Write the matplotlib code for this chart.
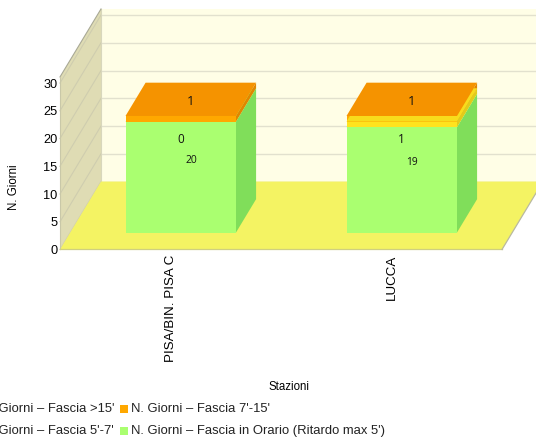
import matplotlib
matplotlib.use('Agg')
import matplotlib.pyplot as plt
from matplotlib.patches import Polygon, Rectangle

plt.rcParams['font.family'] = ['Liberation Sans', 'DejaVu Sans']

stazioni = ['PISA/BIN. PISA C', 'LUCCA']
in_orario = [20, 19]
fascia_5_7 = [0, 1]
fascia_7_15 = [1, 1]
fascia_15 = [0, 0]
y_ticks = [0, 5, 10, 15, 20, 25, 30]

W, H = 536, 440
DEPTH_X = 41 / 221   # depth of the box, in category units
DEPTH_Y = 68 / 5.55  # and in value units
BAR_W = 0.5
D0, D1 = 0.25, 0.74

fig = plt.figure(figsize=(W / 100, H / 100), dpi=100)
ax = fig.add_axes([60 / W, (H - 249.5) / H, 442 / W, 172 / H])
ax.set_xlim(-0.5, 1.5)
ax.set_ylim(0, 31)
ax.patch.set_visible(False)
for s in ax.spines.values():
    s.set_visible(False)


def pr(x, v, d):
    return x + d * DEPTH_X, v + d * DEPTH_Y


def poly(pts, color, edge='none', lw=0.0, z=2):
    ax.add_patch(Polygon([pr(*p) for p in pts], closed=True, facecolor=color,
                         edgecolor=edge, linewidth=lw, clip_on=False, zorder=z))


def line(p0, p1, color, lw=1.0, z=1.5):
    a, b = pr(*p0), pr(*p1)
    ax.plot([a[0], b[0]], [a[1], b[1]], color=color, lw=lw, clip_on=False, zorder=z)


x0, x1 = -0.5, 1.5
top = 31.1

# walls and floor
poly([(x0, 0, 1), (x1, 0, 1), (x1, top, 1), (x0, top, 1)], '#FFFEE6', z=1)
poly([(x0, 0, 0), (x0, 0, 1), (x0, top, 1), (x0, top, 0)], '#DFDCB4', z=1)
poly([(x0, 0, 0), (x1, 0, 0), (x1, 0, 1), (x0, 0, 1)], '#F4F363', z=1.8)
for t in y_ticks:
    line((x0, t, 1), (x1, t, 1), '#E2E1CE', 1.0)
    line((x0, t, 0), (x0, t, 1), '#CFCDAF', 0.8)
line((x0, top, 0), (x0, top, 1), '#A9A996', 0.8, 1.9)
line((x0, 0, 0), (x0, top, 0), '#C9C8A8', 0.8, 1.9)
line((x0, 0, 0), (x1, 0, 0), '#CFCF80', 0.9, 1.9)
line((x1, 0, 0), (x1, 0, 1), '#B9B9A0', 0.9, 1.9)
line((x0, top, 1), (x0, 0, 1), '#D8D7BC', 0.8, 1.7)

# stacks, bottom to top: front, top, side colours
series = [
    (in_orario, '#AAFF70', '#AAFF70', '#80DE5A'),
    (fascia_5_7, '#FFE31E', '#F8DC1C', '#E3CB1A'),
    (fascia_7_15, '#FFA800', '#F59300', '#E08600'),
    (fascia_15, '#FF7F00', '#F07000', '#D06000'),
]

for i in range(len(stazioni)):
    a, b = i - BAR_W / 2, i + BAR_W / 2
    base = 0
    for vals, front, upper, side in series:
        v = vals[i]
        if v > 0:
            poly([(a, base, D0), (b, base, D0), (b, base + v, D0), (a, base + v, D0)], front, z=3)
            poly([(b, base, D0), (b, base, D1), (b, base + v, D1), (b, base + v, D0)], side, z=3)
            poly([(a, base + v, D0), (b, base + v, D0), (b, base + v, D1), (a, base + v, D1)], upper, z=3 + base / 100)
        base += v

# data labels
LABEL_COLOR = '#111111'
for i in range(len(stazioni)):
    cx, cy = pr(i, in_orario[i] / 2, 0.5)
    ax.text(cx, cy, str(in_orario[i]), fontsize=7.4, family='Open Sans', ha='center', va='center', color=LABEL_COLOR, zorder=6)
    cx, cy = pr(i, 16.7, 0.25)
    ax.text(cx, cy, str(fascia_5_7[i]), fontsize=8.5, family='Open Sans', ha='center', va='center', color=LABEL_COLOR, zorder=6)
    cx, cy = pr(i, in_orario[i] + fascia_5_7[i] + fascia_7_15[i] / 2, 0.5)
    ax.text(cx, cy, str(fascia_7_15[i]), fontsize=9.5, family='Open Sans', ha='center', va='center', color=LABEL_COLOR, zorder=6)

ax.set_yticks(y_ticks)
ax.set_xticks(range(len(stazioni)))
ax.set_xticklabels(stazioni, rotation=90, fontsize=9.6)
ax.tick_params(length=0)
ax.tick_params(axis='y', pad=2, labelsize=9.2)
ax.tick_params(axis='x', pad=4)

fig.text(14 / W, 1 - 187 / H, 'N. Giorni', rotation=90, fontsize=8.3, ha='center', va='center')
fig.text(289 / W, 1 - 387 / H, 'Stazioni', fontsize=8.3, ha='center', va='center')

# legend, runs off the left edge like the original
legend_rows = [
    ("N. Giorni \u2013 Fascia >15'", '#FFA800', "N. Giorni \u2013 Fascia 7'-15'", 409),
    ("N. Giorni \u2013 Fascia 5'-7'", '#AAFF70', "N. Giorni \u2013 Fascia in Orario (Ritardo max 5')", 431),
]
for left, col, right, y in legend_rows:
    fig.text(114 / W, 1 - y / H, left, fontsize=9.35, ha='right', va='center', color='#222222')
    fig.text(131 / W, 1 - y / H, right, fontsize=9.35, ha='left', va='center', color='#222222')
    fig.add_artist(Rectangle((120 / W, 1 - (y + 4) / H), 8 / W, 8 / H, transform=fig.transFigure,
                             facecolor=col, edgecolor='none'))

plt.savefig('out.png', dpi=100)
